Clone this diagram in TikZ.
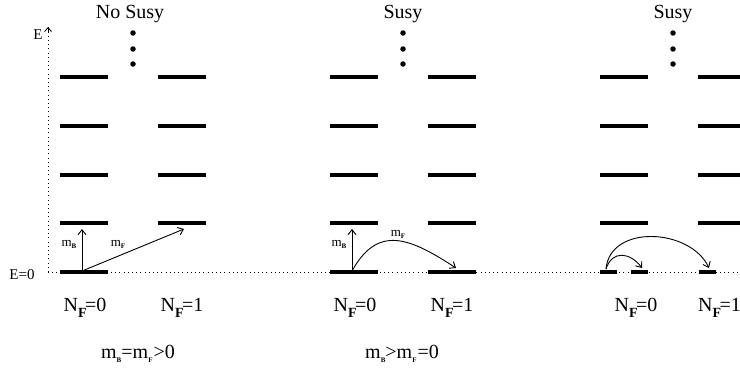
\documentclass[tikz,border=0pt]{standalone}
\usepackage{fontspec}
\setmainfont{Liberation Serif}
\newfontfamily\timesfont{Liberation Serif}
\usetikzlibrary{arrows.meta, positioning, calc}
\newcommand{\mass}[2]{m\raisebox{-#2}{\fontsize{7}{7}\selectfont\bfseries #1}}
\newcommand{\nferm}[1]{N\raisebox{-6pt}{\fontsize{14}{14}\selectfont\bfseries F}\kern-1.5pt=#1}
\tikzset{
	level/.style={line width=4pt},
	axisline/.style={line width=1pt, dash pattern=on 1pt off 3.2pt},
	jump/.style={-{Straight Barb[length=5pt, width=8pt]}, line width=0.9pt},
	vacdot/.style={circle, fill=black, inner sep=0pt, minimum size=5.5pt},
	biglabel/.style={font=\timesfont\fontsize{20}{24}\selectfont, inner sep=0pt},
	smalllabel/.style={font=\timesfont\fontsize{13}{15}\selectfont, inner sep=0pt},
}
\begin{document}
\begin{tikzpicture}[x=1pt, y=-1pt]
	\useasboundingbox (0,0) rectangle (740,372);
	% axes
	\coordinate (orig) at (48,272);
	\coordinate (etop) at (48,27);
	\coordinate (eend) at (740,272);
	\draw[axisline] (orig) -- (eend);
	\draw[axisline] (orig) -- (etop);
	\draw[-{Straight Barb[length=4pt, width=7pt]}, line width=0.8pt] (48,33) -- (etop);
	\node[font=\timesfont\fontsize{15}{18}\selectfont, inner sep=0pt] (elab) at (38,35) {E};
	\node[font=\timesfont\fontsize{15}{18}\selectfont, inner sep=0pt] (ezero) at (22,275) {E=0};
	% excited levels of all three panels
	\foreach \xl in {60,158,330,428,600,698}
		\foreach \yl in {77,126,175,223}
			\draw[level] (\xl,\yl) -- ++(48,0);
	% ground levels
	\draw[level] (60,272) -- (108,272);
	\draw[level] (330,272) -- (378,272);
	\draw[level] (428,272) -- (476,272);
	\draw[level] (600,272) -- (617,272);
	\draw[level] (631,272) -- (648,272);
	\draw[level] (699,272) -- (716,272);
	% dots
	\foreach \xd/\nm in {133/a,403/b,673/c}
		\foreach \yd in {33,49,64}
			\node[vacdot] (dot\nm\yd) at (\xd,\yd) {};
	% titles
	\node[biglabel] (tnosusy) at (130,14) {No Susy};
	\node[biglabel] (tsusyb) at (403,14) {Susy};
	\node[biglabel] (tsusyc) at (673,14) {Susy};
	% panel 1
	\coordinate (ga) at (82,271);
	\coordinate (ba) at (82,229);
	\coordinate (fa) at (184,229);
	\draw[jump] (ga) -- (ba);
	\draw[jump] (ga) -- (fa);
	\node[smalllabel] (mba) at (69,244) {\mass{B}{2pt}};
	\node[smalllabel] (mfa) at (118,244) {\mass{F}{2pt}};
	% panel 2
	\coordinate (gb) at (352,271);
	\coordinate (bb) at (352,229);
	\coordinate (fb) at (456,268);
	\draw[jump] (gb) -- (bb);
	\draw[jump] (gb) .. controls (378,224) and (410,238) .. (fb);
	\node[smalllabel] (mbb) at (339,244) {\mass{B}{2pt}};
	\node[smalllabel] (mfb) at (398,234) {\mass{F}{2pt}};
	% panel 3
	\coordinate (gc) at (606,269);
	\coordinate (sc) at (642,268);
	\coordinate (fc) at (709,268);
	\draw[jump] (gc) .. controls (612,250) and (630,252) .. (sc);
	\draw[jump] (gc) .. controls (610,224) and (690,228) .. (fc);
	% fermion number labels
	\node[biglabel] (nfa) at (85,308) {\nferm{0}};
	\node[biglabel] (nfb) at (182,308) {\nferm{1}};
	\node[biglabel] (nfc) at (355,308) {\nferm{0}};
	\node[biglabel] (nfd) at (452,308) {\nferm{1}};
	\node[biglabel] (nfe) at (636,308) {\nferm{0}};
	\node[biglabel, anchor=west] (nff) at (698,308) {\nferm{1}};
	% bottom captions
	\node[biglabel] (capa) at (138,354) {\mass{B}{4pt}=\mass{F}{4pt}\kern1pt>0};
	\node[biglabel] (capb) at (402,354) {\mass{B}{4pt}>\mass{F}{4pt}\kern1pt=0};
\end{tikzpicture}
\end{document}
